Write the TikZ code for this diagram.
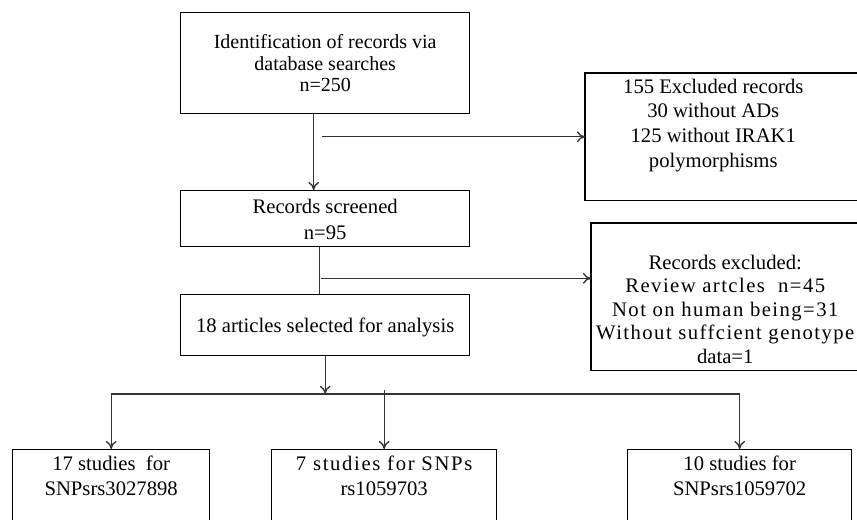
\documentclass[tikz,border=0pt]{standalone}
\usepackage{fontspec}
\setmainfont{Liberation Serif}
\usepackage{tikz}
\usetikzlibrary{arrows.meta}
\usetikzlibrary{calc}

\newcommand{\loosetext}[2][7]{{\addfontfeature{LetterSpace=#1}#2}}

\begin{document}
\begin{tikzpicture}[x=0.75pt, y=-0.75pt, >={To[length=6pt,width=8pt]},
  box/.style={rectangle, draw=black, line width=1pt, anchor=north west, align=center, inner sep=0pt},
  textonly/.style={rectangle, anchor=north west, align=center, inner sep=0pt},
  fs/.style 2 args={font=\fontsize{#1}{#2}\selectfont},
  boxline/.style={draw=black, line width=1pt},
  conn/.style={draw=black!80, line width=1pt}]

\useasboundingbox (0,0) rectangle (857,520);
\clip (0,0) rectangle (857,520);

% First, define nodes (text height counts down to the last line)
\draw (180,12) node[box, minimum width=216.75pt, text height=59.2pt, text depth=16.55pt, fs={15}{16.1}] (ident) {Identification of records via\\ database searches\\ n=250};
\draw (180,190) node[box, minimum width=216.75pt, text height=36.75pt, text depth=5.25pt, fs={15.5}{19.5}] (screened) {Records screened\\ n=95};
\draw (180,294) node[box, minimum width=216.75pt, text height=28.5pt, text depth=17.25pt, fs={15.5}{18}] (selected) {18 articles selected for analysis};

% Excluded records, the boxes run off the right edge
\draw (585,73) node[textonly, minimum width=192pt, text height=70.5pt, text depth=24.75pt, fs={15.5}{18.5}] (excl1) {155 Excluded records\\ 30 without ADs\\ 125 without IRAK1\\ polymorphisms};
\draw[boxline] ($(excl1.north west)+(300,0)$) -- (excl1.north west) -- (excl1.south west) -- ++(300,0);
\draw (591,223) node[textonly, minimum width=201pt, text height=104.9pt, text depth=5.35pt, fs={15.5}{17.6}] (excl2) {Records excluded:\\ \loosetext{Review artcles~~n=45}\\ \loosetext{Not on human being=31}\\ \loosetext{Without suffcient genotype}\\ data=1};
\draw[boxline] ($(excl2.north west)+(300,0)$) -- (excl2.north west) -- (excl2.south west) -- ++(300,0);

% One box for each SNP, cut at the bottom
\draw (12,449) node[box, minimum width=147.75pt, text height=34.5pt, text depth=56.25pt, fs={15.5}{18.75}] (b1) {17 studies~~for\\ SNPsrs3027898};
\draw (271,449) node[box, minimum width=168.75pt, text height=34.5pt, text depth=56.25pt, fs={15.5}{18.75}] (b2) {\loosetext[8]{7 studies for SNPs}\\ rs1059703};
\draw (627,449) node[box, minimum width=168pt, text height=34.5pt, text depth=56.25pt, fs={15.5}{18.75}] (b3) {10 studies for\\ SNPsrs1059702};

% Arrows between the boxes
\draw[conn,->] ($(ident.south)+(-11.5,0)$) -- ($(screened.north)+(-11.5,0)$);
\draw[conn,->] ($(excl1.west -| ident.south)+(-3.5,0)$) -- (excl1.west);
\draw[conn] ($(screened.south)+(-5.5,0)$) -- ($(selected.north)+(-5.5,0)$);
\coordinate (j2) at ($(screened.south)+(-4.5,31)$);
\draw[conn,->] (j2) -- (j2 -| excl2.west);

% Then split into the three SNPs
\coordinate (split) at ($(selected.south)+(0,37.5)$);
\draw[conn,->] (selected.south) -- (split);
\draw[conn] (split -| b1.north) -- (split -| b3.north);
\foreach \b in {b1,b3} {\draw[conn,->] (split -| \b.north) -- (\b.north);}
\draw[conn,->] ($(split -| b2.north)+(0,-4)$) -- (b2.north);

\end{tikzpicture}
\end{document}
